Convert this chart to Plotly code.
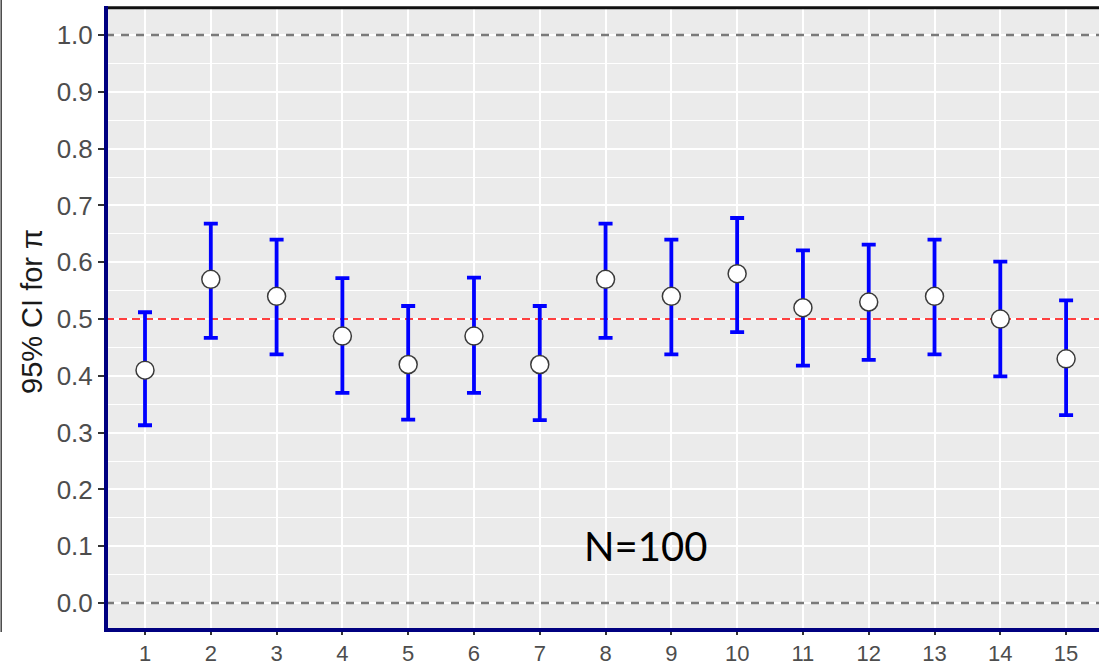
import plotly.graph_objects as go

samples = list(range(1, 16))
estimate = [0.41, 0.57, 0.54, 0.47, 0.42, 0.47, 0.42, 0.57, 0.54, 0.58, 0.52, 0.53, 0.54, 0.50, 0.43]
lower = [0.313, 0.467, 0.438, 0.370, 0.323, 0.370, 0.322, 0.467, 0.438, 0.477, 0.418, 0.428, 0.438, 0.399, 0.331]
upper = [0.512, 0.668, 0.640, 0.572, 0.523, 0.573, 0.523, 0.668, 0.640, 0.678, 0.621, 0.631, 0.640, 0.601, 0.533]
y_ticks = [0.0, 0.1, 0.2, 0.3, 0.4, 0.5, 0.6, 0.7, 0.8, 0.9, 1.0]
y_tick_text = ["0.0", "0.1", "0.2", "0.3", "0.4", "0.5", "0.6", "0.7", "0.8", "0.9", "1.0"]
true_pi = 0.5
ref_lines = [0.0, 1.0]
label = "N=100"

err_plus = [u - e for u, e in zip(upper, estimate)]
err_minus = [e - l for e, l in zip(estimate, lower)]

W, H = 1099, 667
L, R, T, B = 106, 1099, 9, 630
pw, ph = R - L, B - T
x_range = [0.407, 15.50]

def px_x(p):
    return (p - L) / pw

def px_y(p):
    return (B - p) / ph

fig = go.Figure()
for v in ref_lines:
    fig.add_trace(go.Scatter(x=x_range, y=[v, v], mode="lines",
                             line=dict(color="#7a7a7a", width=2.5, dash="8px,7px"),
                             showlegend=False, hoverinfo="skip"))
fig.add_trace(go.Scatter(x=x_range, y=[true_pi, true_pi], mode="lines",
                         line=dict(color="#FF0000", width=1.5, dash="8px,5px"),
                         showlegend=False, hoverinfo="skip"))
fig.add_trace(go.Scatter(
    x=samples, y=estimate, mode="markers",
    marker=dict(size=18, color="white", line=dict(color="#3a3a3a", width=1.5)),
    error_y=dict(type="data", symmetric=False, array=err_plus, arrayminus=err_minus,
                 color="#0000FF", thickness=3.8, width=7),
    showlegend=False, hoverinfo="skip",
))

shapes = []
# frame
shapes.append(dict(type="line", xref="paper", yref="paper", x0=0, x1=1, y0=1.002, y1=1.002,
                   line=dict(color="#111111", width=3), layer="above"))
shapes.append(dict(type="line", xref="paper", yref="paper", x0=0, x1=0, y0=-0.003, y1=1.005,
                   line=dict(color="#000080", width=4), layer="above"))
shapes.append(dict(type="line", xref="paper", yref="paper", x0=-0.002, x1=1, y0=0, y1=0,
                   line=dict(color="#000080", width=4), layer="above"))
# thin line at far left
shapes.append(dict(type="line", xref="paper", yref="paper", x0=px_x(1.2), x1=px_x(1.2),
                   y0=px_y(0), y1=px_y(632),
                   line=dict(color="#444444", width=1.5), layer="above"))

fig.update_layout(
    width=W, height=H,
    margin=dict(l=L, r=W - R, t=T, b=H - B, autoexpand=False),
    paper_bgcolor="white", plot_bgcolor="#EBEBEB",
    shapes=shapes,
    font=dict(family="Liberation Sans, Arial, sans-serif"),
    xaxis=dict(range=x_range, tickvals=samples, ticktext=[str(s) for s in samples],
               showgrid=True, gridcolor="white", gridwidth=1.6, zeroline=False,
               ticks="outside", ticklen=4, tickwidth=1.5, tickcolor="#333333",
               tickfont=dict(size=22, color="#4D4D4D"), showline=False),
    yaxis=dict(range=[-0.0475, 1.046], tickvals=y_ticks, ticktext=y_tick_text,
               showgrid=True, gridcolor="white", gridwidth=1.6, zeroline=False,
               ticks="outside", ticklen=7, tickwidth=1.5, tickcolor="#333333",
               tickfont=dict(size=26, color="#4D4D4D"), showline=False,
               minor=dict(tick0=0.05, dtick=0.1, showgrid=True, gridcolor="white", gridwidth=0.8, ticks="")),
    annotations=[
        dict(text="95% CI for π", xref="paper", yref="paper", x=px_x(32), y=px_y(312),
             textangle=-90, showarrow=False, xanchor="center", yanchor="middle",
             font=dict(size=29, color="#1a1a1a", family="Liberation Sans, Arial, sans-serif")),
        dict(text=label, xref="x", yref="y", x=8.61, y=0.1, showarrow=False,
             xanchor="center", yanchor="middle",
             font=dict(size=40, color="black", family="Lato, sans-serif")),
    ],
)

fig.write_html("out.html")
